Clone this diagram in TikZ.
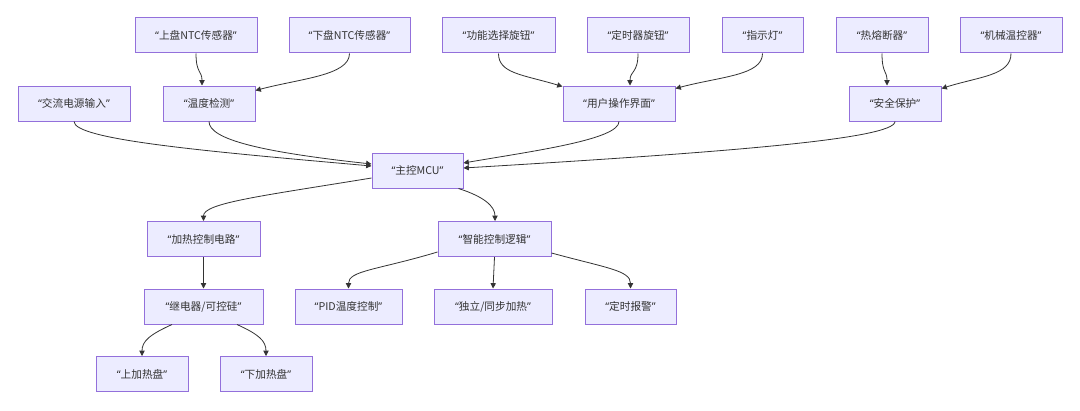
\documentclass[tikz,border=0pt]{standalone}
\usepackage{fontspec}
\setmainfont{Noto Sans CJK SC}
\newfontfamily\qfont{Noto Sans}
\usetikzlibrary{arrows.meta,calc}
\definecolor{nodefill}{HTML}{ECECFF}
\definecolor{nodeborder}{HTML}{9370DB}
\definecolor{edgecol}{HTML}{333333}
\definecolor{txtcol}{HTML}{333333}
\newcommand{\qq}[1]{{\qfont “}#1{\qfont ”}}
\tikzset{
  box/.style={draw=nodeborder, fill=nodefill, line width=0.75pt, minimum height=26.25pt,
    inner sep=0pt, text=txtcol, font=\fontsize{8}{9.6}\selectfont},
  bw/.style={minimum width=#1*0.75pt},
  arr/.style={draw=edgecol, line width=0.6pt, -{Triangle[length=4pt,width=4pt]}},
}
\begin{document}
\begin{tikzpicture}[x=0.75pt,y=-0.75pt]
\useasboundingbox[fill=white] (0,0) rectangle (1080,410);
% row 1
\node[box,bw=122] (u1) at (196,35.5) {\qq{上盘NTC传感器}};
\node[box,bw=121] (d1) at (349.5,35.5) {\qq{下盘NTC传感器}};
\node[box,bw=113] (f1) at (498.5,35.5) {\qq{功能选择旋钮}};
\node[box,bw=102] (t1) at (638,35.5) {\qq{定时器旋钮}};
\node[box,bw=81] (i1) at (762.5,35.5) {\qq{指示灯}};
\node[box,bw=92] (r1) at (882,35.5) {\qq{热熔断器}};
\node[box,bw=102] (m1) at (1011,35.5) {\qq{机械温控器}};
% row 2
\node[box,bw=112] (ac) at (74,103.5) {\qq{交流电源输入}};
\node[box,bw=92] (wd) at (209,103.5) {\qq{温度检测}};
\node[box,bw=112] (ui) at (619,103.5) {\qq{用户操作界面}};
\node[box,bw=92] (sp) at (895,103.5) {\qq{安全保护}};
% MCU
\node[box,bw=91] (mcu) at (417.5,170.5) {\qq{主控MCU}};
% row 4
\node[box,bw=113] (hc) at (203.5,239) {\qq{加热控制电路}};
\node[box,bw=113] (sl) at (494.5,239) {\qq{智能控制逻辑}};
% row 5
\node[box,bw=119] (relay) at (203.5,306.5) {\qq{继电器/可控硅}};
\node[box,bw=107] (pid) at (348.5,306.5) {\qq{PID温度控制}};
\node[box,bw=118] (ind) at (493,306.5) {\qq{独立/同步加热}};
\node[box,bw=91] (alarm) at (630.5,306.5) {\qq{定时报警}};
% row 6
\node[box,bw=92] (up) at (142,374) {\qq{上加热盘}};
\node[box,bw=92] (dn) at (266,374) {\qq{下加热盘}};
% edges
\draw[arr] (u1.south) .. controls +(0,20) and +(0,-15) .. ($(wd.north)+(-7,0)$);
\draw[arr] (d1.south) .. controls +(0,22) and +(45,-12) .. ($(wd.north east)+(0,5)$);
\draw[arr] (f1.south) .. controls +(0,20) and +(-40,-12) .. ($(ui.north west)+(0,1)$);
\draw[arr] (t1.south) .. controls +(0,20) and +(0,-15) .. ($(ui.north)+(11,0)$);
\draw[arr] (i1.south) .. controls +(0,22) and +(45,-12) .. ($(ui.north east)+(0,3)$);
\draw[arr] (r1.south) .. controls +(0,20) and +(0,-15) .. ($(sp.north)+(-8,0)$);
\draw[arr] (m1.south) .. controls +(0,22) and +(38,-12) .. ($(sp.north east)+(0,3)$);
\draw[arr] (ac.south) .. controls +(0,18) and +(-170,-15) .. ($(mcu.west)+(0,-4.5)$);
\draw[arr] (wd.south) .. controls +(0,18) and +(-110,-12) .. ($(mcu.west)+(0,-6.5)$);
\draw[arr] (ui.south) .. controls +(0,18) and +(70,-12) .. ($(mcu.east)+(0,-7.5)$);
\draw[arr] (sp.south) .. controls +(0,18) and +(250,-15) .. ($(mcu.east)+(0,-2.5)$);
\draw[arr] ($(mcu.west)+(0,7.5)$) .. controls +(-110,18) and +(0,-18) .. (hc.north);
\draw[arr] ($(mcu.south east)+(-5,0)$) .. controls +(25,8) and +(0,-15) .. ($(sl.north)+(0.5,0)$);
\draw[arr] (hc.south) -- (relay.north);
\draw[arr] ($(relay.south)+(-31.5,0)$) .. controls +(-22,10) and +(0,-15) .. (up.north);
\draw[arr] ($(relay.south)+(33.5,0)$) .. controls +(22,10) and +(0,-15) .. (dn.north);
\draw[arr] ($(sl.west)+(0,13)$) .. controls +(-60,18) and +(0,-18) .. (pid.north);
\draw[arr] (sl.south) -- (ind.north);
\draw[arr] ($(sl.east)+(0,14)$) .. controls +(55,15) and +(0,-18) .. (alarm.north);
\end{tikzpicture}
\end{document}
